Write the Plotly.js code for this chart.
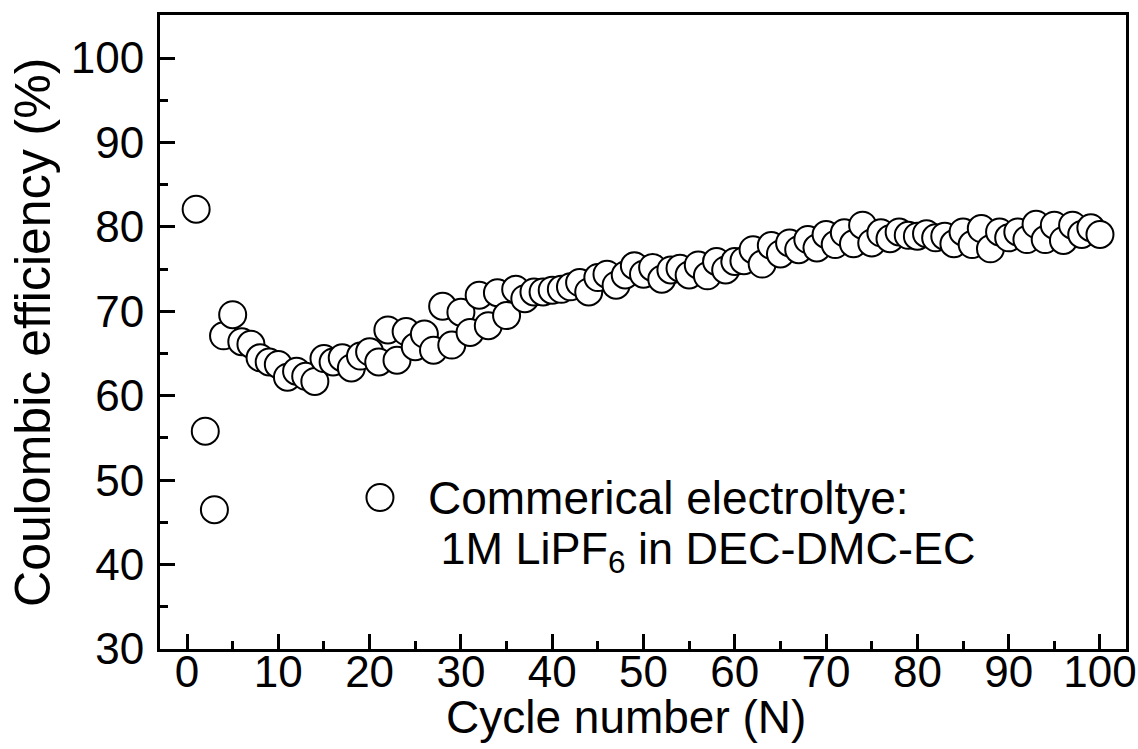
<!DOCTYPE html>
<html>
<head>
<meta charset="utf-8">
<script src="https://cdn.plot.ly/plotly-3.0.1.min.js"></script>
<style>
  html, body { margin: 0; padding: 0; background: #ffffff; }
  #chart { width: 1138px; height: 749px; }
</style>
</head>
<body>
<div id="chart"></div>
<script>
// Cycle index of each charge/discharge cycle
const cycleNumber = [
  1, 2, 3, 4, 5, 6, 7, 8, 9, 10,
  11, 12, 13, 14, 15, 16, 17, 18, 19, 20,
  21, 22, 23, 24, 25, 26, 27, 28, 29, 30,
  31, 32, 33, 34, 35, 36, 37, 38, 39, 40,
  41, 42, 43, 44, 45, 46, 47, 48, 49, 50,
  51, 52, 53, 54, 55, 56, 57, 58, 59, 60,
  61, 62, 63, 64, 65, 66, 67, 68, 69, 70,
  71, 72, 73, 74, 75, 76, 77, 78, 79, 80,
  81, 82, 83, 84, 85, 86, 87, 88, 89, 90,
  91, 92, 93, 94, 95, 96, 97, 98, 99, 100
];

// Coulombic efficiency (%) per cycle, commercial electrolyte
const coulombicEfficiency = [
  82.1, 55.8, 46.5, 67.1, 69.6, 66.4, 66.1, 64.5, 64.0, 63.7,
  62.2, 62.9, 62.3, 61.7, 64.4, 64.0, 64.5, 63.3, 64.7, 65.2,
  64.0, 67.8, 64.2, 67.6, 65.8, 67.3, 65.4, 70.6, 66.0, 69.9,
  67.5, 71.9, 68.3, 72.2, 69.5, 72.6, 71.5, 72.3, 72.3, 72.5,
  72.6, 72.9, 73.4, 72.3, 74.0, 74.4, 73.1, 74.3, 75.4, 74.4,
  75.2, 73.8, 74.9, 75.1, 74.3, 75.5, 74.2, 75.9, 74.9, 75.9,
  76.0, 77.3, 75.6, 77.8, 76.8, 78.1, 77.3, 78.5, 77.5, 79.1,
  77.9, 79.3, 78.0, 80.2, 78.1, 79.3, 78.6, 79.4, 79.0, 78.9,
  79.2, 78.7, 78.9, 78.0, 79.4, 77.9, 79.8, 77.4, 79.4, 78.7,
  79.4, 78.5, 80.3, 78.5, 80.2, 78.4, 80.2, 79.1, 79.9, 79.1
];

const xTickVals = [0, 10, 20, 30, 40, 50, 60, 70, 80, 90, 100];
const yTickVals = [30, 40, 50, 60, 70, 80, 90, 100];

const xTitle = 'Cycle number (N)';
const yTitle = 'Coulombic efficiency (%)';
const seriesName = 'Commerical electroltye:';
const seriesDetail = '\u00a01M LiPF<sub>6</sub> in DEC-DMC-EC';

const FONT = '"Liberation Sans", Arial, Helvetica, sans-serif';

const trace = {
  x: cycleNumber,
  y: coulombicEfficiency,
  type: 'scatter',
  mode: 'markers',
  name: seriesName,
  showlegend: false,
  marker: {
    symbol: 'circle',
    size: 27,
    color: '#ffffff',
    line: { color: '#000000', width: 2 }
  },
  hoverinfo: 'x+y'
};

const axisCommon = {
  showgrid: false,
  zeroline: false,
  showline: true,
  linecolor: '#000000',
  linewidth: 3,
  mirror: true,
  ticks: 'inside',
  ticklen: 15,
  tickwidth: 3,
  tickcolor: '#000000',
  tickfont: { family: FONT, size: 44, color: '#000000' },
  minor: { dtick: 5, ticks: 'inside', ticklen: 8, tickwidth: 3, tickcolor: '#000000' }
};

const layout = {
  width: 1138,
  height: 749,
  paper_bgcolor: '#ffffff',
  plot_bgcolor: '#ffffff',
  margin: { l: 160, r: 12, t: 15, b: 100, pad: 0 },
  font: { family: FONT, color: '#000000' },
  xaxis: Object.assign({}, axisCommon, {
    range: [-2.96, 102.85],
    tickmode: 'array',
    tickvals: xTickVals,
    ticklabelstandoff: -18
  }),
  yaxis: Object.assign({}, axisCommon, {
    range: [30, 105.1],
    tickmode: 'array',
    tickvals: yTickVals,
    ticklabelstandoff: 4
  }),
  shapes: [
    {
      // legend symbol
      type: 'circle',
      xref: 'paper', yref: 'paper',
      xsizemode: 'pixel', ysizemode: 'pixel',
      xanchor: 0.2277, yanchor: 0.2388,
      x0: -13.5, x1: 13.5, y0: -13.5, y1: 13.5,
      line: { color: '#000000', width: 2 },
      fillcolor: '#ffffff'
    }
  ],
  annotations: [
    {
      // x-axis title
      xref: 'paper', yref: 'paper',
      x: 0.4824, y: -0.108,
      xanchor: 'center', yanchor: 'middle',
      showarrow: false,
      text: xTitle,
      font: { family: FONT, size: 46, color: '#000000' }
    },
    {
      // y-axis title
      xref: 'paper', yref: 'paper',
      x: -0.1315, y: 0.5,
      xanchor: 'center', yanchor: 'middle',
      textangle: -90,
      showarrow: false,
      text: yTitle,
      font: { family: FONT, size: 50, color: '#000000' }
    },
    {
      xref: 'paper', yref: 'paper',
      x: 0.2756, y: 0.2388,
      xanchor: 'left', yanchor: 'middle',
      showarrow: false,
      text: seriesName,
      font: { family: FONT, size: 46, color: '#000000' }
    },
    {
      xref: 'paper', yref: 'paper',
      x: 0.2756, y: 0.154,
      xanchor: 'left', yanchor: 'middle',
      showarrow: false,
      text: seriesDetail,
      font: { family: FONT, size: 45, color: '#000000' }
    }
  ],
  showlegend: false
};

Plotly.newPlot('chart', [trace], layout, { displayModeBar: false, staticPlot: true });
</script>
</body>
</html>
